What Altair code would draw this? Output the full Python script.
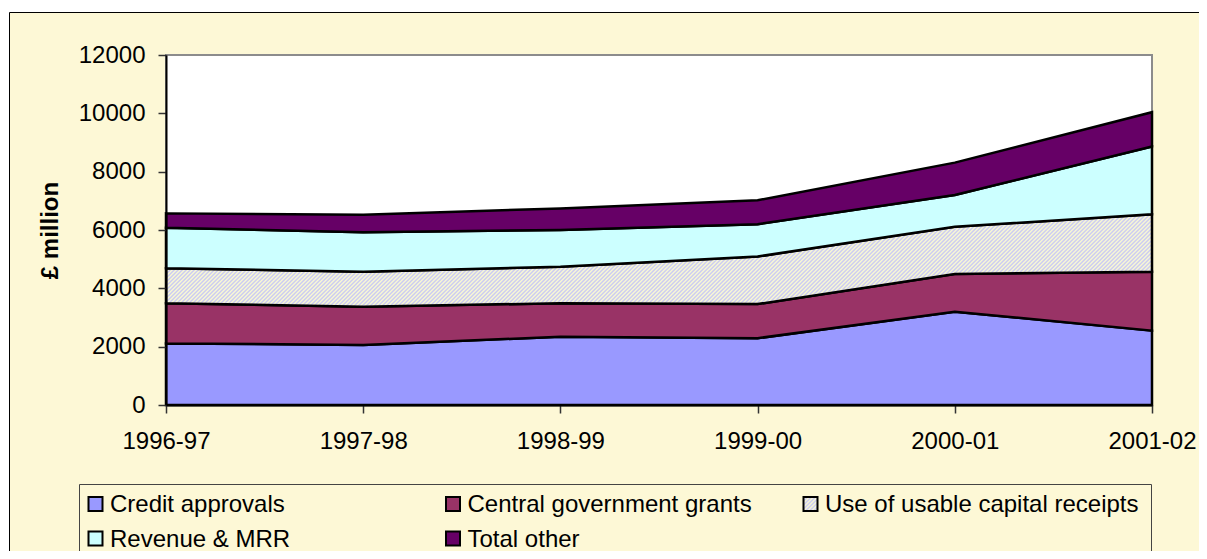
import altair as alt
import pandas as pd
import numpy as np

# ---------------- data ----------------
years = ["1996-97", "1997-98", "1998-99", "1999-00", "2000-01", "2001-02"]
series = ["Credit approvals", "Central government grants",
          "Use of usable capital receipts", "Revenue & MRR", "Total other"]
credit_approvals = [2110, 2060, 2340, 2290, 3200, 2550]
central_grants = [1380, 1310, 1150, 1170, 1290, 2020]
usable_receipts = [1200, 1200, 1250, 1630, 1620, 1970]
revenue_mrr = [1390, 1350, 1260, 1110, 1090, 2320]
total_other = [490, 600, 740, 820, 1110, 1180]
y_ticks = [0, 2000, 4000, 6000, 8000, 10000, 12000]

values = [credit_approvals, central_grants, usable_receipts, revenue_mrr, total_other]

# ---------------- styling ----------------
FONT = "Liberation Sans"
W, H = 986, 350
YMAX = 12000
CREAM = "#FDF8D6"
solid = ["#9999FF", "#993366", None, "#CCFFFF", "#660066"]
HATCH_A, HATCH_B = "#C4C4F6", "#FFFFD0"

df = pd.DataFrame({"year": years})
cum = np.zeros(len(years))
for i, vals in enumerate(values):
    df[f"b{i}"] = cum.copy()
    cum = cum + np.array(vals, dtype=float)
    df[f"t{i}"] = cum.copy()


def stripes(width, height, period=4.0, extra=1.25):
    # gradient direction chosen so stripes run at 45 degrees on screen
    base = width + height * height / width
    k = (width + height) / base * extra
    span = k * base
    n = int(round(span / period))
    stops = []
    for j in range(n):
        stops += [alt.GradientStop(offset=j / n, color=HATCH_A),
                  alt.GradientStop(offset=(j + 0.5) / n, color=HATCH_B)]
    stops.append(alt.GradientStop(offset=1, color=HATCH_A))
    return alt.Gradient(gradient="linear", x1=0, y1=0, x2=k, y2=k * height / width, stops=stops)


hatch_h = (df["t2"].max() - df["b2"].min()) / YMAX * H
hatch_fill = stripes(W, hatch_h)
hatch_symbol = stripes(14, 14, extra=1.0)

yscale = alt.Scale(domain=[0, YMAX], nice=False, zero=True)
yaxis = alt.Axis(values=y_ticks, format="d", grid=False, tickSize=8, tickColor="#333333",
                 tickWidth=1.5, domainColor="black", domainWidth=2, labelFont=FONT,
                 labelFontSize=24, labelColor="black", labelPadding=13, titleFont=FONT,
                 titleFontSize=24, titleFontWeight="bold", titleColor="black",
                 titlePadding=16, zindex=1)
xscale = alt.Scale(type="point", padding=0)
xaxis = alt.Axis(labelAngle=0, grid=False, tickSize=8, tickColor="#333333", tickWidth=1.5,
                 domainColor="black", domainWidth=2, labelFont=FONT, labelFontSize=24,
                 labelColor="black", labelPadding=16, zindex=1)

dummy = pd.DataFrame({"a": [0]})

layers = []
# outer chart-area frame
layers.append(alt.Chart(dummy).mark_rect(fill=CREAM, stroke="black", strokeWidth=1).encode(
    x=alt.value(-156.5), x2=alt.value(1060), y=alt.value(-42.5), y2=alt.value(540)))
# plot area background
layers.append(alt.Chart(dummy).mark_rect(fill="white", stroke="#8C8C8C", strokeWidth=2).encode(
    x=alt.value(0), x2=alt.value(W), y=alt.value(0), y2=alt.value(H)))
# legend box
layers.append(alt.Chart(dummy).mark_rect(fill=CREAM, stroke="#444444", strokeWidth=1).encode(
    x=alt.value(-86.5), x2=alt.value(985.5), y=alt.value(429.5), y2=alt.value(540)))

for i, name in enumerate(series):
    fill = hatch_fill if solid[i] is None else solid[i]
    layers.append(
        alt.Chart(df).mark_area(fill=fill, stroke="black", strokeWidth=2.5, strokeJoin="miter",
                                opacity=1, fillOpacity=1).encode(
            x=alt.X("year:O", scale=xscale, axis=xaxis, title=None, sort=years),
            y=alt.Y(f"t{i}:Q", scale=yscale, axis=yaxis, title="£ million"),
            y2=alt.Y2(f"b{i}:Q"),
        )
    )

# legend entries
for i, name in enumerate(series):
    col, row = i % 3, i // 3
    cx = -70.5 + 357.5 * col
    cy = 449 + 34.5 * row
    fill = hatch_symbol if solid[i] is None else solid[i]
    layers.append(alt.Chart(dummy).mark_square(size=196, fill=fill, stroke="black",
                                               strokeWidth=2, opacity=1, fillOpacity=1).encode(
        x=alt.value(cx), y=alt.value(cy)))
    layers.append(alt.Chart(dummy).mark_text(align="left", baseline="middle", font=FONT,
                                             fontSize=24, color="black").encode(
        x=alt.value(cx + 14.5), y=alt.value(cy + 1), text=alt.value(name)))

chart = alt.layer(*layers).properties(
    width=W, height=H,
    autosize=alt.AutoSizeParams(type="none"),
    padding={"left": 158, "top": 47, "right": 47, "bottom": 146},
    background="white",
).configure_view(stroke=None)

chart.save("out.html", embed_options={"renderer": "svg", "actions": False})
